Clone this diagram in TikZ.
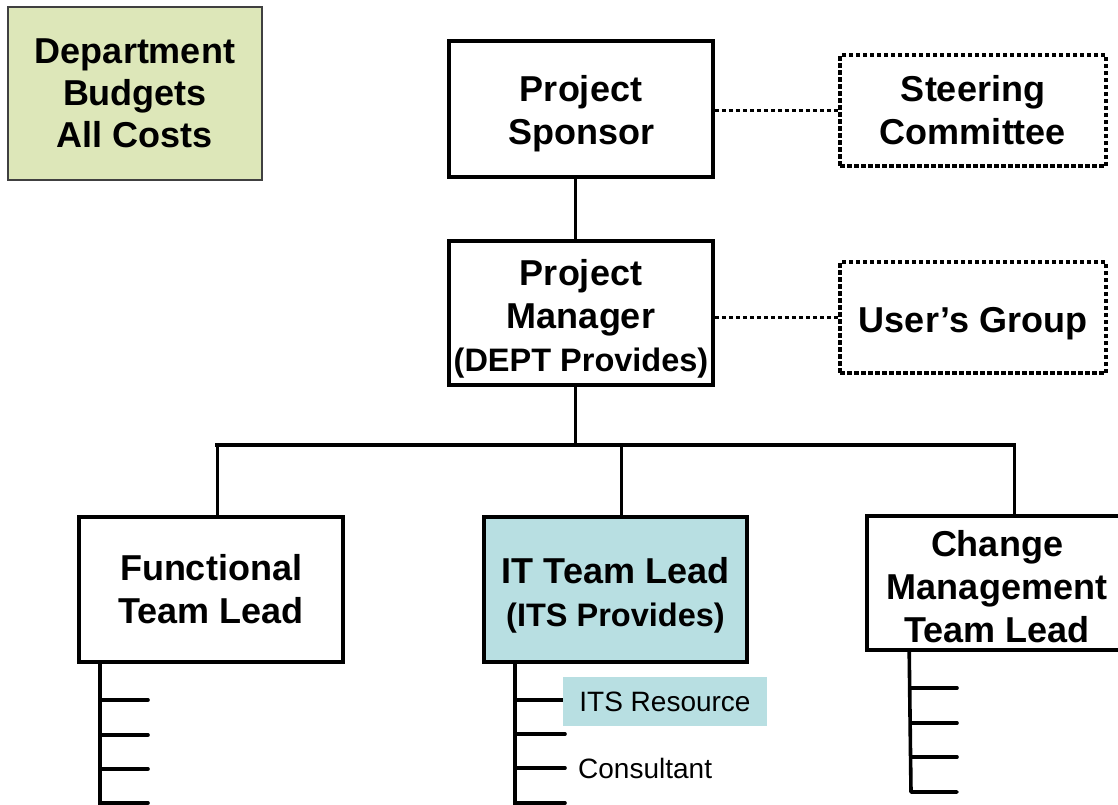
\documentclass[tikz,border=0pt]{standalone}
\usepackage{fontspec}
\setmainfont{Liberation Sans}
\definecolor{budgetfill}{HTML}{DDE7B9}
\definecolor{itfill}{HTML}{B8DFE2}
% invisible strut that pushes a box's text down a little
\newcommand\lowerby[1]{\rule{0pt}{\dimexpr 26pt+2\dimexpr #1\relax\relax}}
\begin{document}
\begin{tikzpicture}[x=1pt,y=-1pt,
  bigtext/.style={font=\fontsize{36}{43}\selectfont\bfseries},
  box/.style={draw, fill=white, line width=3.6pt, rectangle, inner sep=0pt,
    align=center, bigtext},
  dotbox/.style={box, dash pattern=on 4.5pt off 2.5pt, line width=3.8pt},
  conn/.style={line width=3pt},
  busline/.style={line width=4pt, line cap=rect},
  dotline/.style={line width=3.8pt, dash pattern=on 4.5pt off 2.5pt},
  tickline/.style={line width=3.6pt, line cap=round, line join=round},
  smalltext/.style={inner sep=0pt, font=\fontsize{28}{34}\selectfont}
]
\useasboundingbox (0,0) rectangle (1118,804);
\clip (0,0) rectangle (1118,804);

% budget note
\node[draw=black!75, line width=1.2pt, fill=budgetfill, inner sep=0pt,
  minimum width=254, minimum height=173, align=center,
  font=\fontsize{36}{42}\selectfont\bfseries]
  (budget) at (135,93.5) {Department\\Budgets\\All Costs};

% upper chain
\node[box, minimum width=264, minimum height=136] (sponsor) at (581,109)
  {\lowerby{5pt}Project\\Sponsor};
\node[box, minimum width=264, minimum height=144] (manager) at (581,313)
  {\lowerby{6pt}Project\\Manager\\{\fontsize{32.5}{43}\selectfont (DEPT Provides)}};
\node[dotbox, minimum width=266, minimum height=111] (steer) at (973,110.5)
  {Steering\\Committee};
\node[dotbox, minimum width=266, minimum height=111] (users) at (973,317.5)
  {\lowerby{6pt}User’s Group};

% team leads
\node[box, minimum width=264, minimum height=145] (func) at (211,589.5)
  {Functional\\Team Lead};
\node[box, fill=itfill, minimum width=263, minimum height=145] (itlead) at (615.5,589.5)
  {\lowerby{6pt}IT Team Lead\\{\fontsize{32.5}{43}\selectfont (ITS Provides)}};
\node[box, minimum width=260, minimum height=134] (change) at (997,583)
  {\lowerby{4pt}Change\\Management\\Team Lead};

% reporting lines
\coordinate (busL) at (217,445);
\coordinate (busM) at (621,445);
\coordinate (busR) at (1014,445);
\coordinate (busTop) at (575,445);
\draw[conn] ([xshift=-6pt]sponsor.south) -- ([xshift=-6pt]manager.north);
\draw[conn] ([xshift=-6pt]manager.south) -- (busTop);
\draw[busline] (busL) -- (busR);
\draw[conn] (busL) -- (busL |- func.north);
\draw[conn] (busM) -- (busM |- itlead.north);
\draw[conn] (busR) -- (busR |- change.north);

% advisory links
\draw[dotline] (steer.west -| sponsor.east) -- (steer.west);
\draw[dotline] (users.west -| manager.east) -- (users.west);

% staff lists under each lead
\draw[tickline] ([xshift=23pt]func.south west) -- ++(0,160);
\foreach \y in {700,735,769,803}
  \draw[tickline] (102,\y) -- (148,\y);

\draw[tickline] ([xshift=33pt]itlead.south west) -- ++(0,160);
\foreach \y in {700,734,768,803}
  \draw[tickline] (517,\y) -- (565,\y);

\draw[tickline] ([xshift=44pt]change.south west) -- (911,792) -- (957,792);
\foreach \y in {688,723,757}
  \draw[tickline] (911,\y) -- (957,\y);

\node[smalltext, fill=itfill, minimum width=204, minimum height=49]
  (itsres) at (665,701.5) {ITS Resource};
\node[smalltext, anchor=base west] (consult) at (578,778) {Consultant};
\end{tikzpicture}
\end{document}
